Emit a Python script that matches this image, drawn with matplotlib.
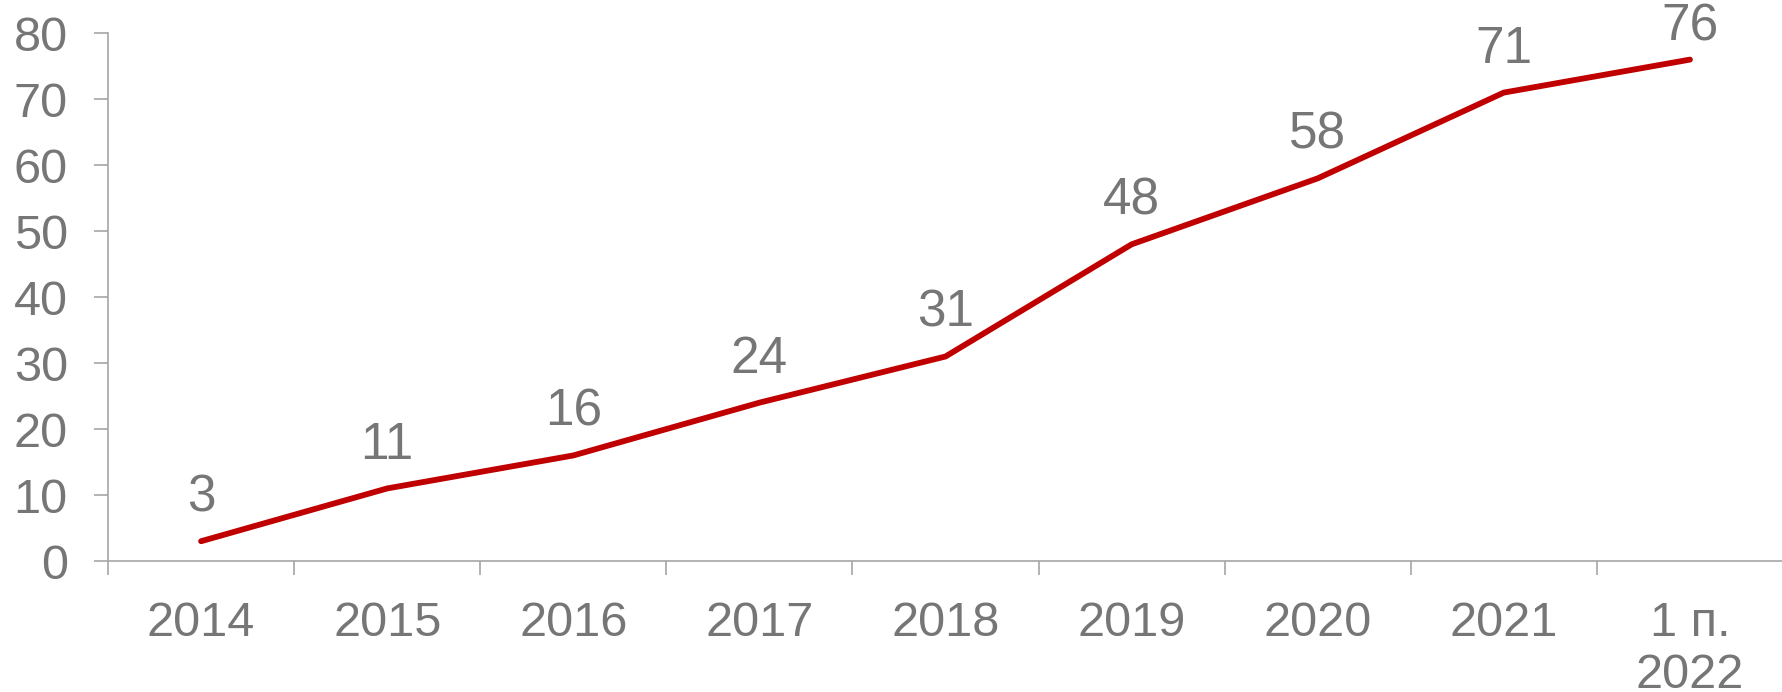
import matplotlib
matplotlib.use("Agg")
import matplotlib.pyplot as plt
import numpy as np

plt.rcParams['font.family'] = ['Liberation Sans', 'DejaVu Sans']

categories = ["2014", "2015", "2016", "2017", "2018", "2019", "2020", "2021", "1 п.\n2022"]
values = [3, 11, 16, 24, 31, 48, 58, 71, 76]

text_color = "#767676"
axis_color = "#a6a6a6"

fig = plt.figure(figsize=(17.83, 6.92), dpi=100)
ax = fig.add_axes([0.0606, 0.1893, 0.9394, 0.7627])

x = np.arange(len(categories)) + 0.5
ax.plot(x, values, color="#c00000", linewidth=4.2, solid_capstyle="round", solid_joinstyle="round")

# data labels above the points (last one is squeezed under the top edge)
for i, (xi, v) in enumerate(zip(x, values)):
    off = 6 if i == len(values) - 1 else 13.5
    ax.annotate(str(v), (xi, v), xytext=(0, off), textcoords="offset points",
                ha="center", va="bottom", fontsize=37, color=text_color)

ax.set_xlim(0, len(categories))
ax.set_ylim(0, 80)
ax.set_yticks(range(0, 81, 10))
ax.set_xticks(np.arange(len(categories) + 1))
ax.set_xticklabels([])
ax.set_xticks(x, minor=True)
ax.set_xticklabels(categories, minor=True)
ax.tick_params(axis="x", which="minor", length=0, pad=29, labelsize=35, labelcolor=text_color)
ax.tick_params(axis="x", which="major", length=10, width=1.2, color=axis_color)
ax.tick_params(axis="y", length=10, width=1.2, color=axis_color, pad=19, labelsize=35, labelcolor=text_color)

for side in ["top", "right"]:
    ax.spines[side].set_visible(False)
for side in ["left", "bottom"]:
    ax.spines[side].set_color(axis_color)
    ax.spines[side].set_linewidth(1.2)

fig.savefig("out.png", dpi=100)
